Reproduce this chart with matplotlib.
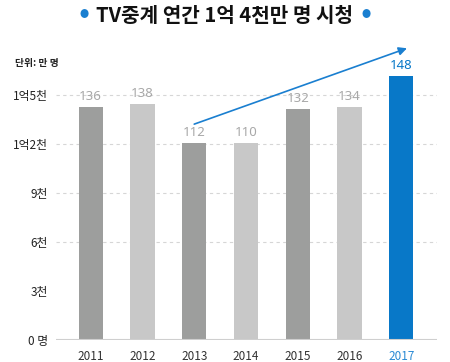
import matplotlib
matplotlib.use("Agg")
import matplotlib.pyplot as plt

plt.rcParams['font.family'] = ['Noto Sans CJK KR', 'DejaVu Sans']

# datos
years = ["2011", "2012", "2013", "2014", "2015", "2016", "2017"]
labels = [136, 138, 112, 110, 132, 134, 148]
# alturas de las barras tal como se ven en la imagen (escala del eje)
heights = [142.7, 144.5, 120.7, 120.5, 141.5, 142.7, 162.0]
tick_vals = [0, 30, 60, 90, 120, 150]
tick_text = ["0 명", "3천", "6천", "9천", "1억2천", "1억5천"]
grid_vals = [60, 90, 120, 150]

dark = "#9d9e9d"
light = "#c8c8c8"
blue = "#0878c8"
colores = [dark, light, dark, light, dark, light, blue]

fig = plt.figure(figsize=(4.5, 3.62), dpi=100)
ax = fig.add_axes([56/450, 22/362, 381/450, 310/362])

x = list(range(len(years)))
ax.bar(x, heights, width=0.47, color=colores, zorder=2)

ax.set_xlim(-0.67, 6.69)
ax.set_ylim(0, 190)

# lineas de guia
ax.hlines(grid_vals, -0.67, 6.69, colors="#d6d6d6", linestyles=(0, (3, 3)),
          linewidth=0.8, zorder=1)
ax.axhline(0, color="#cfcfcf", linewidth=1.5, zorder=3)

for s in ax.spines.values():
    s.set_visible(False)

ax.set_yticks(tick_vals)
ax.set_yticklabels(tick_text, fontsize=8.5, color="#222222")
ax.set_xticks(x)
ax.set_xticklabels(years, fontsize=8.5, color="#333333")
ax.get_xticklabels()[-1].set_color("#2a8ad4")
ax.tick_params(axis="both", length=0)
ax.tick_params(axis="y", pad=6)
ax.tick_params(axis="x", pad=7)

for i, (h, v) in enumerate(zip(heights, labels)):
    c = blue if i == len(years) - 1 else "#a8a8a8"
    ax.text(i, h + 2.5, str(v), ha="center", va="bottom", fontsize=9.5,
            color=c, fontweight="light", family=["Noto Sans", "DejaVu Sans"])

# flecha de tendencia
ax.annotate("", xy=(6.11, 178.8), xytext=(2.0, 132.3),
            arrowprops=dict(arrowstyle="-|>", color="#1a7fd0", lw=1.2,
                            mutation_scale=12, shrinkA=0, shrinkB=0),
            annotation_clip=False)

fig.text(225/450, 1 - 16/362, "TV중계 연간 1억 4천만 명 시청", ha="center",
         va="center", fontsize=14.5, fontweight="bold", color="#111111")
fig.text(84/450, 1 - 15/362, "●", ha="center", va="center", fontsize=6.5,
         color="#1a7fd0")
fig.text(366/450, 1 - 15/362, "●", ha="center", va="center", fontsize=6.5,
         color="#1a7fd0")
fig.text(15/450, 1 - 63/362, "단위: 만 명", ha="left", va="center",
         fontsize=7, fontweight="bold", color="#222222")

fig.savefig("out.png", dpi=100)
